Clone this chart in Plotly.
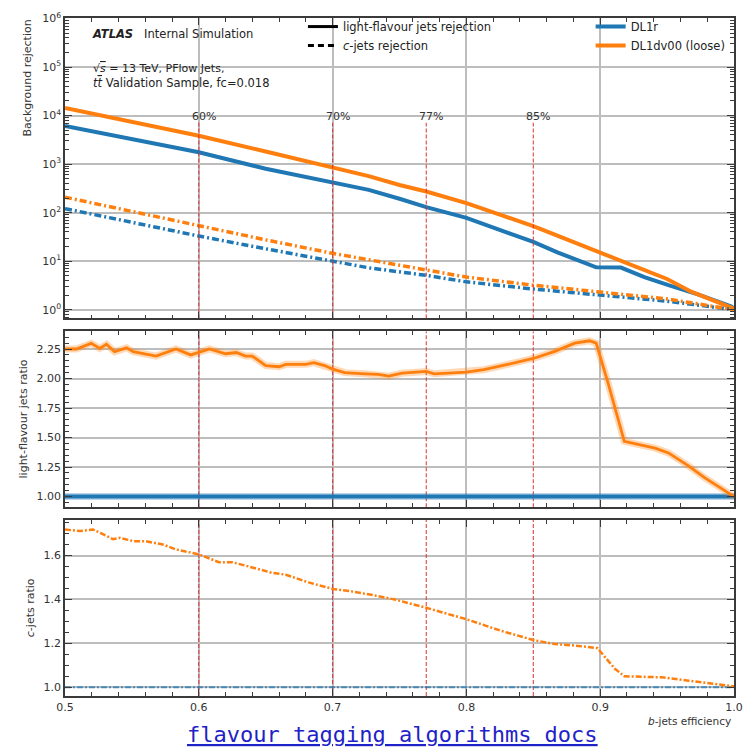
import math
import plotly.graph_objects as go

# ---------------- data ----------------
light_eff_dl1r = [0.5, 0.55, 0.6, 0.65, 0.7, 0.727, 0.75, 0.77, 0.8, 0.85, 0.868, 0.897,
                  0.9155, 0.933, 0.951, 0.973, 0.988, 0.998, 1.0]
light_rej_dl1r = [6100, 3270, 1760, 800, 414, 294, 193, 130, 78, 25, 15.2, 7.5,
                  7.4, 4.7, 3.2, 2.08, 1.47, 1.17, 1.05]

light_eff_dl1d = [0.5, 0.55, 0.6, 0.65, 0.7, 0.727, 0.75, 0.77, 0.8, 0.85, 0.875, 0.9,
                  0.918, 0.95, 0.968, 1.0]
light_rej_dl1d = [14400, 7400, 3840, 1820, 873, 565, 371, 272, 157, 53, 28, 15,
                  10, 4.3, 2.35, 1.05]

c_eff = [0.5, 0.55, 0.6, 0.65, 0.7, 0.727, 0.77, 0.8, 0.85, 0.9, 0.95, 1.0]
c_rej_dl1r = [121, 63, 33, 18, 10, 7.3, 5.1, 3.75, 2.67, 2.0, 1.5, 1.0]
c_rej_dl1d = [208, 105, 53, 27.5, 14.5, 10.8, 6.5, 4.7, 3.2, 2.3, 1.67, 1.0]

light_ratio_eff = [0.5, 0.5085, 0.5196, 0.526, 0.531, 0.537, 0.546, 0.551, 0.568, 0.583,
                   0.594, 0.608, 0.620, 0.628, 0.635, 0.640, 0.650, 0.660, 0.665, 0.680,
                   0.686, 0.694, 0.700, 0.709, 0.724, 0.734, 0.742, 0.752, 0.770, 0.776,
                   0.800, 0.813, 0.831, 0.850, 0.866, 0.881, 0.892, 0.897, 0.906, 0.918,
                   0.941, 0.951, 0.966, 0.978, 1.0]
light_ratio_dl1d = [2.25, 2.25, 2.298, 2.255, 2.29, 2.227, 2.26, 2.227, 2.19, 2.25,
                    2.20, 2.25, 2.21, 2.22, 2.19, 2.19, 2.11, 2.10, 2.12, 2.12,
                    2.135, 2.11, 2.08, 2.05, 2.04, 2.035, 2.02, 2.045, 2.06, 2.04,
                    2.055, 2.075, 2.12, 2.17, 2.23, 2.30, 2.32, 2.30, 1.957, 1.468,
                    1.41, 1.37, 1.26, 1.16, 1.0]

c_ratio_eff = [0.5, 0.511, 0.521, 0.536, 0.541, 0.551, 0.560, 0.573, 0.583, 0.600,
               0.615, 0.625, 0.640, 0.655, 0.665, 0.682, 0.700, 0.714, 0.730, 0.7465,
               0.770, 0.800, 0.826, 0.850, 0.866, 0.881, 0.898, 0.911, 0.918, 0.946,
               0.966, 1.0]
c_ratio_dl1d = [1.719, 1.712, 1.719, 1.675, 1.681, 1.666, 1.666, 1.651, 1.628, 1.606,
                1.57, 1.57, 1.546, 1.521, 1.513, 1.478, 1.448, 1.437, 1.42, 1.40,
                1.362, 1.31, 1.257, 1.215, 1.197, 1.19, 1.178, 1.084, 1.05, 1.045,
                1.03, 1.004]

ref_eff = [0.5, 1.0]
ref_ratio = [1.0, 1.0]

wp_eff = [0.6, 0.7, 0.77, 0.85]
wp_labels = ["60%", "70%", "77%", "85%"]

top_range_log = [-0.18, 6.0]
wp_line_top = 7100          # top of working-point lines in upper panel
wp_label_y = 9500           # height of working-point labels
mid_range = [0.91, 2.40]
bot_range = [0.96, 1.762]

# ---------------- style ----------------
BLUE = "#1f77b4"
ORANGE = "#ff7f0e"
RED = "rgba(222,45,45,0.9)"
FONT = "DejaVu Sans"
DASHDOT = "7px,3px,2px,3px"

fig = go.Figure()

# ---- top panel ----
fig.add_trace(go.Scatter(x=light_eff_dl1r, y=light_rej_dl1r, mode="lines", name="DL1r",
                         line=dict(color=BLUE, width=4), legend="legend2",
                         xaxis="x", yaxis="y"))
fig.add_trace(go.Scatter(x=light_eff_dl1d, y=light_rej_dl1d, mode="lines", name="DL1dv00 (loose)",
                         line=dict(color=ORANGE, width=4), legend="legend2",
                         xaxis="x", yaxis="y"))
fig.add_trace(go.Scatter(x=c_eff, y=c_rej_dl1r, mode="lines", showlegend=False,
                         line=dict(color=BLUE, width=3.5, dash=DASHDOT), xaxis="x", yaxis="y"))
fig.add_trace(go.Scatter(x=c_eff, y=c_rej_dl1d, mode="lines", showlegend=False,
                         line=dict(color=ORANGE, width=3.5, dash=DASHDOT), xaxis="x", yaxis="y"))

# legend entries for the line styles
fig.add_trace(go.Scatter(x=[None], y=[None], mode="lines", name="light-flavour jets rejection",
                         line=dict(color="black", width=3), legend="legend", xaxis="x", yaxis="y"))
fig.add_trace(go.Scatter(x=[None], y=[None], mode="lines", name="<i>c</i>-jets rejection",
                         line=dict(color="black", width=3, dash="6px,4px"), legend="legend",
                         xaxis="x", yaxis="y"))

# working points
top_bottom_val = 10 ** top_range_log[0]
for wp in wp_eff:
    fig.add_trace(go.Scatter(x=[wp, wp], y=[top_bottom_val, wp_line_top], mode="lines",
                             showlegend=False, line=dict(color=RED, width=1.1, dash="4px,2px"),
                             xaxis="x", yaxis="y"))
    fig.add_trace(go.Scatter(x=[wp, wp], y=mid_range, mode="lines", showlegend=False,
                             line=dict(color=RED, width=1.1, dash="4px,2px"),
                             xaxis="x2", yaxis="y2"))
    fig.add_trace(go.Scatter(x=[wp, wp], y=bot_range, mode="lines", showlegend=False,
                             line=dict(color=RED, width=1.1, dash="4px,2px"),
                             xaxis="x3", yaxis="y3"))

# ---- middle panel ----
fig.add_trace(go.Scatter(x=ref_eff, y=ref_ratio, mode="lines", showlegend=False,
                         line=dict(color="rgba(31,119,180,0.3)", width=7), xaxis="x2", yaxis="y2"))
fig.add_trace(go.Scatter(x=ref_eff, y=ref_ratio, mode="lines", showlegend=False,
                         line=dict(color=BLUE, width=4), xaxis="x2", yaxis="y2"))
fig.add_trace(go.Scatter(x=light_ratio_eff, y=light_ratio_dl1d, mode="lines", showlegend=False,
                         line=dict(color="rgba(255,127,14,0.3)", width=7), xaxis="x2", yaxis="y2"))
fig.add_trace(go.Scatter(x=light_ratio_eff, y=light_ratio_dl1d, mode="lines", showlegend=False,
                         line=dict(color=ORANGE, width=2.8), xaxis="x2", yaxis="y2"))

# ---- bottom panel ----
fig.add_trace(go.Scatter(x=ref_eff, y=ref_ratio, mode="lines", showlegend=False,
                         line=dict(color="rgba(31,119,180,0.75)", width=2, dash="6px,2px,2px,2px"),
                         xaxis="x3", yaxis="y3"))
fig.add_trace(go.Scatter(x=c_ratio_eff, y=c_ratio_dl1d, mode="lines", showlegend=False,
                         line=dict(color=ORANGE, width=2.5, dash="6px,2px,2px,2px"),
                         xaxis="x3", yaxis="y3"))

# ---------------- axes ----------------
axis_common = dict(showline=True, linecolor="#3a3a3a", linewidth=1.5, mirror="ticks",
                   ticks="inside", ticklen=7, tickwidth=1.2, tickcolor="#3a3a3a",
                   showgrid=True, gridcolor="#bdbdbd", gridwidth=2, zeroline=False,
                   tickfont=dict(family=FONT, size=11, color="#333"))

x_common = dict(axis_common, range=[0.5, 1.0], dtick=0.1, tick0=0.5,
                minor=dict(dtick=0.02, tick0=0.5, ticks="inside", ticklen=4,
                           tickcolor="#3a3a3a", showgrid=False))

H = 686.0
def dom(top_px, bot_px):
    return [(696 - bot_px) / H, (696 - top_px) / H]

decades = list(range(0, 7))
top_tickvals = [10 ** d for d in decades]
top_ticktext = ["10<sup>%d</sup>" % d for d in decades]
top_minor = [m * 10 ** d for d in range(-1, 6) for m in range(2, 10)]

fig.update_layout(
    xaxis=dict(x_common, domain=[0, 1], anchor="y", showticklabels=False),
    yaxis=dict(axis_common, type="log", range=top_range_log, domain=dom(10.5, 314),
               tickvals=top_tickvals, ticktext=top_ticktext, anchor="x",
               minor=dict(tickvals=top_minor, ticks="inside", ticklen=4,
                          tickcolor="#3a3a3a", showgrid=False)),
    xaxis2=dict(x_common, domain=[0, 1], anchor="y2", matches="x", showticklabels=False),
    yaxis2=dict(axis_common, range=mid_range, domain=dom(327, 505), anchor="x2",
                tickvals=[1.0, 1.25, 1.5, 1.75, 2.0, 2.25],
                ticktext=["1.00", "1.25", "1.50", "1.75", "2.00", "2.25"],
                minor=dict(dtick=0.05, tick0=1.0, ticks="inside", ticklen=4,
                           tickcolor="#3a3a3a", showgrid=False)),
    xaxis3=dict(x_common, domain=[0, 1], anchor="y3", matches="x",
                tickvals=[0.5, 0.6, 0.7, 0.8, 0.9, 1.0],
                ticktext=["0.5", "0.6", "0.7", "0.8", "0.9", "1.0"]),
    yaxis3=dict(axis_common, range=bot_range, domain=dom(518, 696), anchor="x3",
                tickvals=[1.0, 1.2, 1.4, 1.6], ticktext=["1.0", "1.2", "1.4", "1.6"],
                minor=dict(dtick=0.05, tick0=1.0, ticks="inside", ticklen=4,
                           tickcolor="#3a3a3a", showgrid=False)),
)

def px_x(p):
    return (p - 65) / 672.0

def px_y(p):
    return (696 - p) / H

annotations = []
for wp, lab in zip(wp_eff, wp_labels):
    annotations.append(dict(x=wp, y=math.log10(wp_label_y), xref="x", yref="y", text=lab,
                            showarrow=False, xshift=5,
                            font=dict(family=FONT, size=11, color="#333")))

annotations += [
    dict(x=px_x(90), y=px_y(26), xref="paper", yref="paper", xanchor="left", yanchor="middle",
         text="<b><i>ATLAS</i></b>   Internal Simulation", showarrow=False,
         font=dict(family=FONT, size=11.5, color="#222")),
    dict(x=px_x(91), y=px_y(61), xref="paper", yref="paper", xanchor="left", yanchor="middle",
         text="√<span style='text-decoration:overline'><i>s</i></span> = 13 TeV, PFlow Jets,",
         showarrow=False, font=dict(family=FONT, size=11, color="#222")),
    dict(x=px_x(91), y=px_y(76), xref="paper", yref="paper", xanchor="left", yanchor="middle",
         text="<i>t</i><span style='text-decoration:overline'><i>t</i></span> Validation Sample, fc=0.018",
         showarrow=False, font=dict(family=FONT, size=11.5, color="#222")),
    dict(x=px_x(27), y=px_y(71), xref="paper", yref="paper", xanchor="center", yanchor="middle",
         text="Background rejection", textangle=-90, showarrow=False,
         font=dict(family=FONT, size=11, color="#333")),
    dict(x=px_x(23), y=px_y(416), xref="paper", yref="paper", xanchor="center", yanchor="middle",
         text="light-flavour jets ratio", textangle=-90, showarrow=False,
         font=dict(family=FONT, size=11, color="#333")),
    dict(x=px_x(30), y=px_y(607), xref="paper", yref="paper", xanchor="center", yanchor="middle",
         text="<i>c</i>-jets ratio", textangle=-90, showarrow=False,
         font=dict(family=FONT, size=11, color="#333")),
    dict(x=px_x(736), y=px_y(721), xref="paper", yref="paper", xanchor="right", yanchor="middle",
         text="<i>b</i>-jets efficiency", showarrow=False,
         font=dict(family=FONT, size=10.5, color="#333")),
    dict(x=px_x(394), y=px_y(735), xref="paper", yref="paper", xanchor="center", yanchor="middle",
         text="<u>flavour tagging algorithms docs</u>", showarrow=False,
         font=dict(family="DejaVu Sans Mono", size=22, color="#1f22c8")),
]

fig.update_layout(
    width=753, height=747,
    margin=dict(l=65, r=16, t=10, b=51),
    paper_bgcolor="white", plot_bgcolor="white",
    font=dict(family=FONT, size=11, color="#222"),
    annotations=annotations,
    legend=dict(x=px_x(304), y=px_y(4), xanchor="left", yanchor="top",
                bgcolor="rgba(0,0,0,0)", borderwidth=0, tracegroupgap=0,
                font=dict(family=FONT, size=11.5, color="#222")),
    legend2=dict(x=px_x(593), y=px_y(4), xanchor="left", yanchor="top",
                 bgcolor="rgba(0,0,0,0)", borderwidth=0, tracegroupgap=0,
                 font=dict(family=FONT, size=11.5, color="#222")),
)

fig.write_html("out.html")
